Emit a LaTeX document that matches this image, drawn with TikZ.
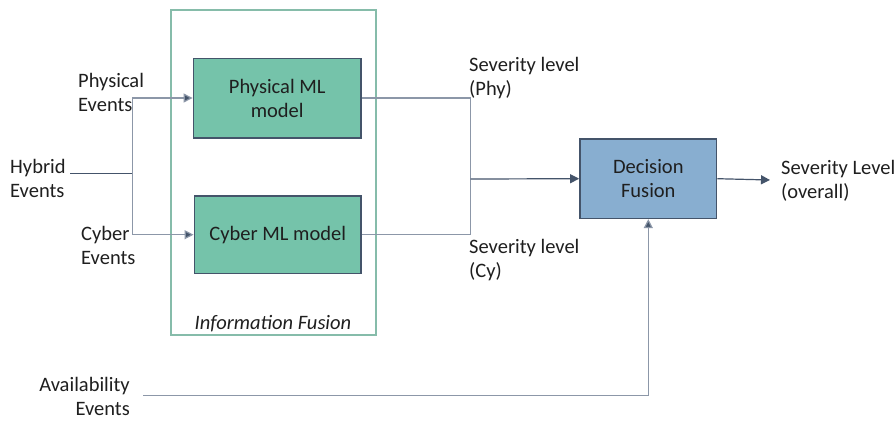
\documentclass[tikz,border=0pt]{standalone}
\usepackage{fontspec}
\setmainfont{Carlito}
\usetikzlibrary{arrows.meta}
\definecolor{mlfill}{HTML}{75C3AA}
\definecolor{boxedge}{HTML}{44546A}
\definecolor{decfill}{HTML}{88AED0}
\definecolor{groupedge}{HTML}{86BCAA}
\definecolor{wire}{HTML}{8C97A8}
\definecolor{wiredark}{HTML}{44546A}
\tikzset{
  mlbox/.style={draw=boxedge, line width=1.6pt, fill=mlfill, inner sep=0pt, align=center},
  decbox/.style={draw=boxedge, line width=1.6pt, fill=decfill, inner sep=0pt, align=center},
  lbl/.style={inner sep=0pt, align=left, anchor=west},
  wireline/.style={draw=wire, line width=1.2pt},
  flow/.style={draw=wiredark, line width=1.2pt, -{Triangle[length=9pt,width=9pt]}},
  flowlight/.style={draw=wire, line width=1.2pt, -{Triangle[length=9pt,width=9pt,fill=wiredark]}}
}
\begin{document}
\begin{tikzpicture}[x=1pt,y=-1pt,font=\fontsize{20.5}{24}\selectfont,text=black!88]
\useasboundingbox[fill=white] (0,0) rectangle (896,421);

% Information fusion group
\draw[groupedge, line width=1.6pt] (170.7,10) rectangle (376,335);
\node[inner sep=0pt, font=\fontsize{20.5}{24}\selectfont\itshape] (ifl) at (273,324) {Information Fusion};

% Model boxes
\node[mlbox, minimum width=167.7pt, minimum height=79.4pt] (phys) at (277.2,98) {Physical ML\\model};
\node[mlbox, minimum width=166.7pt, minimum height=77.3pt] (cyb) at (277.7,234.7) {Cyber ML model};
\node[decbox, minimum width=136.7pt, minimum height=79.3pt] (dec) at (648.3,178.7) {Decision\\Fusion};

% Labels
\node[lbl] (hyb) at (10,178.5) {Hybrid\\Events};
\node[lbl] (pev) at (78,92.5) {Physical\\Events};
\node[lbl] (cev) at (81,245.5) {Cyber\\Events};
\node[lbl] (sphy) at (469,78.5) {Severity level\\(Phy)};
\node[lbl] (scy) at (469,260) {Severity level\\(Cy)};
\node[lbl] (sall) at (781,180.5) {Severity Level\\(overall)};
\node[inner sep=0pt, align=right, anchor=east] (avail) at (130,396.5) {Availability\\Events};

% Junction points
\coordinate (hin) at (70,173.5);
\coordinate (hj) at (132.3,173.5);
\coordinate (sj) at (470.7,179);
\coordinate (outend) at (770,180);
\coordinate (avin) at (143,395.5);

% Connectors
\draw[draw=wiredark, line width=1.2pt] (hin) -- (hj);
\draw[flowlight] (hj) |- (phys.west);
\draw[flowlight] (hj) |- (cyb.west);
\draw[wireline] (phys.east) -| (sj);
\draw[wireline] (cyb.east) -| (sj);
\draw[flow] (sj) -- (dec.west);
\draw[flow] (dec.east) -- (outend);
\draw[flowlight] (avin) -| (dec.south);
\end{tikzpicture}
\end{document}
